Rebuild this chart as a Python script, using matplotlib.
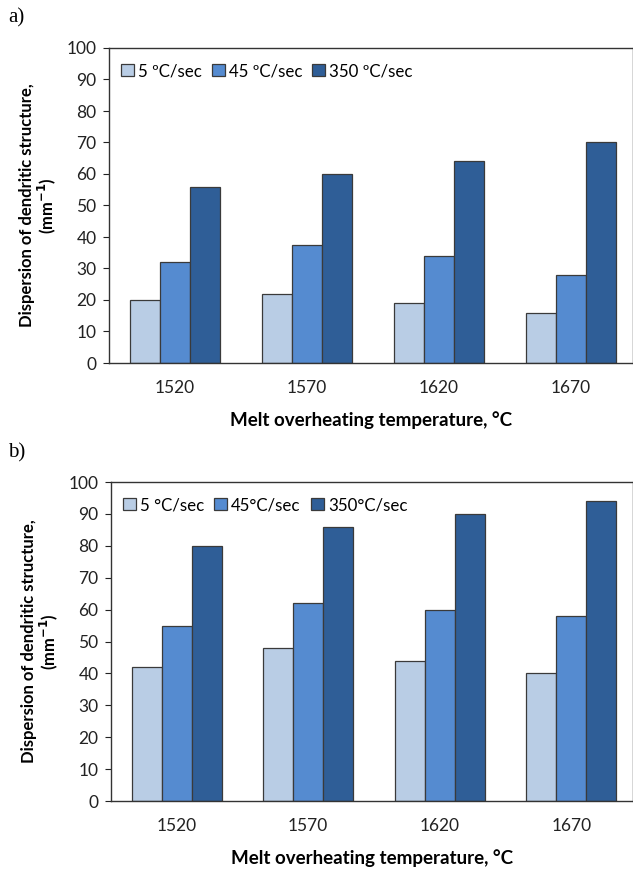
import numpy as np
import matplotlib.pyplot as plt

plt.rcParams['font.family'] = ['Lato', 'DejaVu Sans']

temps = ['1520', '1570', '1620', '1670']
labels_a = ['5 ºC/sec', '45 ºC/sec', '350 ºC/sec']
labels_b = ['5 °C/sec', '45°C/sec', '350°C/sec']
vals_a = [[20, 22, 19, 16],
          [32, 37.5, 34, 28],
          [56, 60, 64, 70]]
vals_b = [[42, 48, 44, 40],
          [55, 62, 60, 58],
          [80, 86, 90, 94]]
colors = ['#b9cde5', '#558bd0', '#2f5e97']

fig = plt.figure(figsize=(6.33, 8.71), dpi=100)
ax_a = fig.add_axes([109/633, 1 - 363/871, 1 - 109/633, 315/871])
ax_b = fig.add_axes([111/633, 1 - 801/871, 1 - 111/633, 319/871])

x = np.arange(len(temps))
w = 0.228


def draw(ax, vals, labels):
    for i, v in enumerate(vals):
        ax.bar(x + (i - 1) * w, v, w, color=colors[i], edgecolor='#3a3a3a',
               linewidth=0.9, label=labels[i])
    ax.set_xlim(-0.5, 3.47)
    ax.set_ylim(0, 100)
    ax.set_yticks(range(0, 101, 10))
    ax.set_xticks(x)
    ax.set_xticklabels(temps)
    ax.tick_params(axis='x', length=0, pad=12, labelsize=12.5, colors='#222222')
    ax.tick_params(axis='y', length=4, pad=5, labelsize=12.5, colors='#222222')
    for s in ax.spines.values():
        s.set_color('#333333')
        s.set_linewidth(1.0)
    ax.set_xlabel('Melt overheating temperature, °C', fontsize=13.5,
                  fontweight='bold', labelpad=11)
    ax.set_ylabel('Dispersion of dendritic structure,\n(mm$^{\\mathbf{-1}}$)',
                  fontsize=12, fontweight='bold', labelpad=6, linespacing=1.05)
    ax.legend(loc='upper left', bbox_to_anchor=(0.0, 0.99), ncol=3,
              frameon=False, fontsize=12.2, handlelength=0.75, handleheight=0.75,
              handletextpad=0.25, columnspacing=0.6, borderaxespad=0.3)


draw(ax_a, vals_a, labels_a)
draw(ax_b, vals_b, labels_b)

fig.text(8/633, 1 - 18/871, 'a)', fontsize=15, family='Liberation Serif', va='center')
fig.text(8/633, 1 - 453/871, 'b)', fontsize=15, family='Liberation Serif', va='center')

fig.savefig('out.png', dpi=100)
